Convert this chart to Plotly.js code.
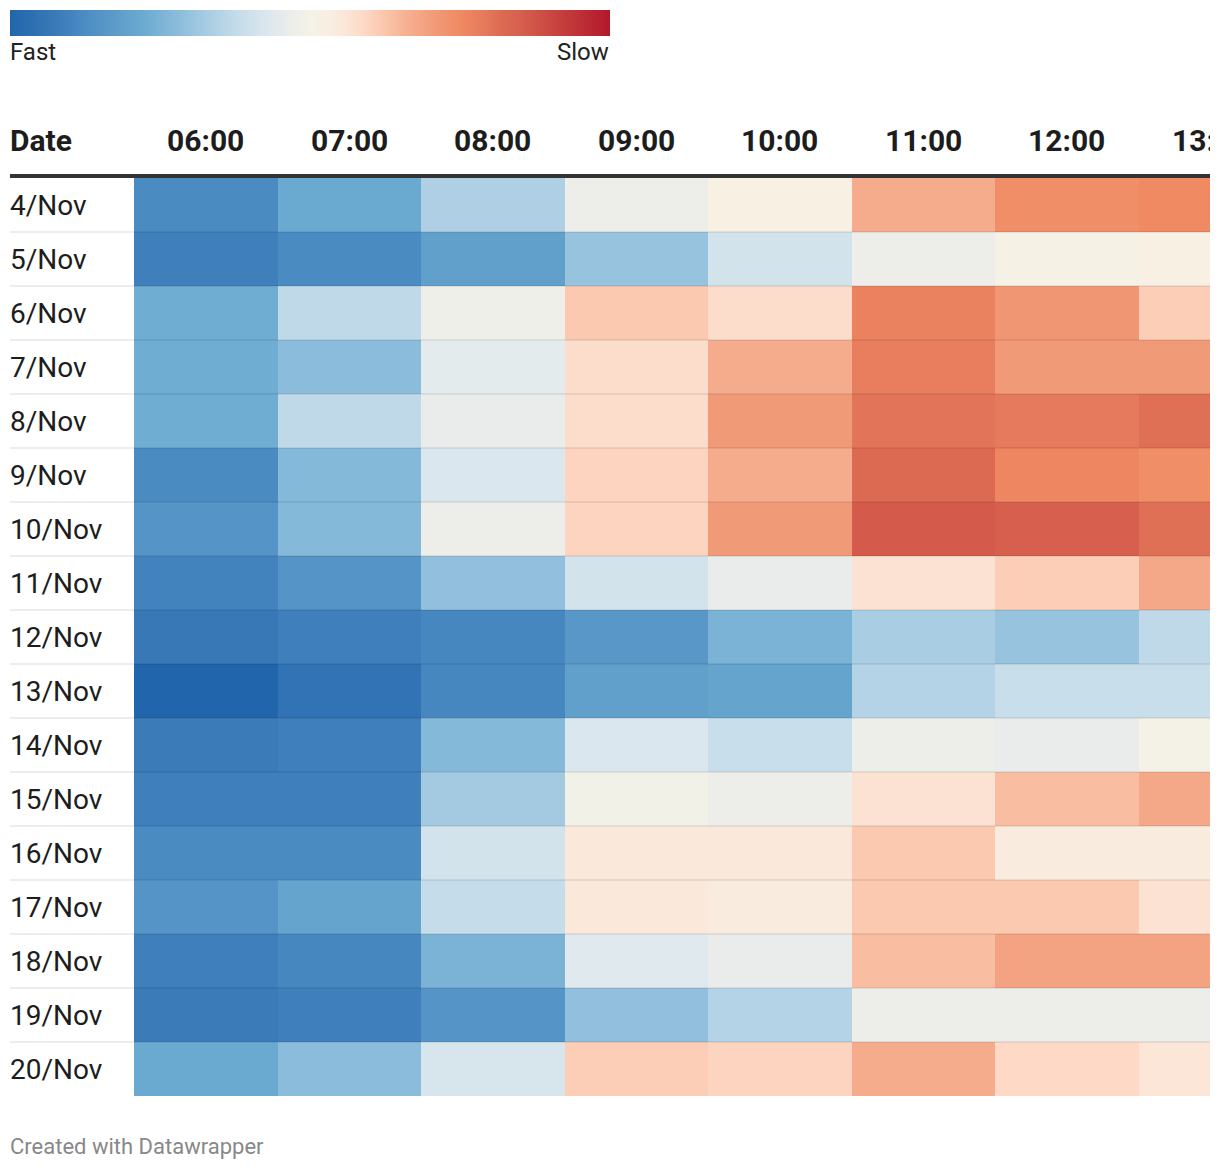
<!DOCTYPE html>
<html>
<head>
<meta charset="utf-8">
<script src="https://cdn.plot.ly/plotly-3.0.1.min.js"></script>
<style>
html,body{margin:0;padding:0;background:#fff;}
#chart{width:1210px;height:1170px;}
</style>
</head>
<body>
<div id="chart"></div>
<script>
// ---- data (0 = fast, 100 = slow) ----
var dates = ["4/Nov","5/Nov","6/Nov","7/Nov","8/Nov","9/Nov","10/Nov","11/Nov","12/Nov","13/Nov","14/Nov","15/Nov","16/Nov","17/Nov","18/Nov","19/Nov","20/Nov"];
var times = ["06:00","07:00","08:00","09:00","10:00","11:00","12:00","13:00"];
var t0600 = [12, 9,23,23,23,12,15,10, 7, 0, 8, 9,12,15, 9, 8,22];
var t0700 = [22,12,37,28,37,27,27,15, 9, 5, 9, 9,12,20,11, 9,28];
var t0800 = [34,19,48,45,46,43,47,29,11,11,27,32,41,38,25,15,42];
var t0900 = [47,30,62,58,58,60,60,41,16,19,43,49,55,55,44,29,61];
var t1000 = [52,41,58,67,71,67,71,46,25,20,39,47,55,54,46,35,60];
var t1100 = [67,47,77,78,80,82,86,57,33,35,47,57,62,62,64,47,67];
var t1200 = [74,51,72,71,79,76,85,61,30,39,46,64,54,62,69,47,59];
var t1300 = [75,52,61,71,81,74,81,68,37,39,50,68,54,57,69,47,56];
var legendLabels = ["Fast","Slow"];
var headerLabel = "Date";
var footerText = "Created with Datawrapper";

// ---- build ----
var cols = [t0600,t0700,t0800,t0900,t1000,t1100,t1200,t1300];
var z = dates.map(function(d,i){ return cols.map(function(c){ return c[i]; }); });

var W = 1210, H = 1170, L = 134, T = 178, B = 74;
var pw = W - L, ph = H - T - B;
function px(x){ return (x - L) / pw; }
function py(y){ return (H - B - y) / ph; }

var colorscale = [
  [0.00,'#2166ac'],[0.08,'#3b7bb8'],[0.12,'#4a8bc2'],[0.17,'#5b9ac8'],
  [0.22,'#6aaad0'],[0.28,'#8bbcdb'],[0.33,'#a9cde3'],[0.38,'#c5dcea'],
  [0.43,'#dbe7ee'],[0.47,'#edeeea'],[0.50,'#f4f2e6'],[0.53,'#f8efe2'],
  [0.56,'#fbe6d8'],[0.59,'#fdd9c6'],[0.62,'#fbc9b0'],[0.66,'#f6b192'],
  [0.70,'#f29e7c'],[0.75,'#ef8a62'],[0.79,'#e57a5c'],[0.82,'#dc6a52'],
  [0.85,'#d6604d'],[1.00,'#b2182b']
];

var trace = {
  type:'heatmap', x: times, y: dates, z: z,
  zmin:0, zmax:100, colorscale: colorscale, hoverinfo:'skip',
  colorbar:{
    orientation:'h', x: px(10), xanchor:'left', y: py(10), yanchor:'top',
    lenmode:'pixels', len:600, thickness:26, outlinewidth:0,
    showticklabels:false, ticks:'', xpad:0, ypad:0
  }
};

var font = "Roboto, 'Noto Sans', sans-serif";
var ann = [];
ann.push({xref:'paper', yref:'paper', x:px(8), y:py(52), xanchor:'left', yanchor:'middle',
  text:legendLabels[0], showarrow:false, font:{family:font, size:24, color:'#222'}});
ann.push({xref:'paper', yref:'paper', x:px(611), y:py(52), xanchor:'right', yanchor:'middle',
  text:legendLabels[1], showarrow:false, font:{family:font, size:24, color:'#222'}});
ann.push({xref:'paper', yref:'paper', x:px(8), y:py(140), xanchor:'left', yanchor:'middle',
  text:headerLabel, showarrow:false, font:{family:font, size:30, color:'#1d1d1d', weight:700}});
times.forEach(function(t){
  ann.push({xref:'x', yref:'paper', x:t, y:py(140), xanchor:'center', yanchor:'middle',
    text:t, showarrow:false, font:{family:font, size:30, color:'#1d1d1d', weight:700}});
});
dates.forEach(function(d){
  ann.push({xref:'paper', yref:'y', x:px(8), y:d, xanchor:'left', yanchor:'middle',
    text:d, showarrow:false, font:{family:font, size:28, color:'#1d1d1d'}});
});
ann.push({xref:'paper', yref:'paper', x:px(8), y:py(1146), xanchor:'left', yanchor:'middle',
  text:footerText, showarrow:false, font:{family:font, size:22, color:'#888'}});

var shapes = [];
dates.forEach(function(d,i){
  if(i===0) return;
  shapes.push({type:'line', xref:'paper', yref:'y', x0:px(10), x1:1, y0:i-0.5, y1:i-0.5,
    line:{color:'rgba(0,0,0,0.07)', width:2}, layer:'above'});
});
shapes.push({type:'line', xref:'paper', yref:'paper', x0:px(10), x1:1, y0:py(176), y1:py(176),
  line:{color:'#333', width:4}, layer:'above'});

var layout = {
  width:W, height:H, margin:{l:L, r:0, t:T, b:B, pad:0},
  paper_bgcolor:'#fff', plot_bgcolor:'#fff',
  xaxis:{type:'category', range:[-0.5, 7.0], showticklabels:false, showgrid:false, zeroline:false, ticks:'', fixedrange:true},
  yaxis:{type:'category', range:[dates.length-0.5, -0.5], showticklabels:false, showgrid:false, zeroline:false, ticks:'', fixedrange:true},
  annotations: ann, shapes: shapes, showlegend:false
};
Plotly.newPlot('chart', [trace], layout, {displayModeBar:false, staticPlot:true});
</script>
</body>
</html>
